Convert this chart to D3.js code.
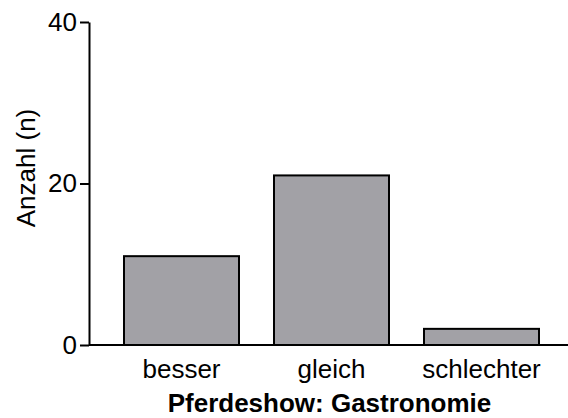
<!DOCTYPE html>
<html><head><meta charset="utf-8">
<script src="https://cdn.jsdelivr.net/npm/d3@7"></script>
<style>body{margin:0;background:#fff}svg{display:block}text{font-family:"Liberation Sans",Arial,sans-serif}</style>
</head><body>
<script>
const categories = ["besser", "gleich", "schlechter"];
const values = [11, 21, 2];
const yTicks = [0, 20, 40];
const xTitle = "Pferdeshow: Gastronomie";
const yTitle = "Anzahl (n)";

const W = 568, H = 418;
const svg = d3.select("body").append("svg").attr("width", W).attr("height", H);
const x = d3.scaleBand().domain(categories).range([106.5, 556.5]).paddingInner(35/150).paddingOuter(35/300);
const y = d3.scaleLinear().domain([0, 40]).range([345, 22]);

svg.selectAll("rect.bar").data(values).join("rect")
  .attr("class", "bar")
  .attr("x", (d, i) => x(categories[i]))
  .attr("width", x.bandwidth())
  .attr("y", d => y(d))
  .attr("height", d => y(0) - y(d))
  .attr("fill", "#a2a1a6").attr("stroke", "#000").attr("stroke-width", 2);

// x axis line
svg.append("line").attr("x1", 89).attr("x2", 568).attr("y1", y(0)).attr("y2", y(0))
  .attr("stroke", "#000").attr("stroke-width", 2);

const yAxis = svg.append("g").attr("transform", "translate(89,0)")
  .call(d3.axisLeft(y).tickValues(yTicks).tickSize(9).tickPadding(3).tickSizeOuter(0));
yAxis.select(".domain").attr("stroke-width", 2);
yAxis.selectAll(".tick line").attr("stroke-width", 2);
yAxis.selectAll("text").attr("font-size", 26).attr("fill", "#000");

const xAxis = svg.append("g").attr("transform", `translate(0,${y(0)})`)
  .call(d3.axisBottom(x).tickSize(0).tickPadding(14.5));
xAxis.select(".domain").remove();
xAxis.selectAll("text").attr("font-size", 26).attr("fill", "#000");

svg.append("text").attr("x", 329.5).attr("y", 411.5).attr("text-anchor", "middle")
  .attr("font-size", 26).attr("font-weight", "bold").text(xTitle);
svg.append("text").attr("transform", "translate(35,168) rotate(-90)").attr("text-anchor", "middle")
  .attr("font-size", 26).text(yTitle);
</script>
</body></html>
